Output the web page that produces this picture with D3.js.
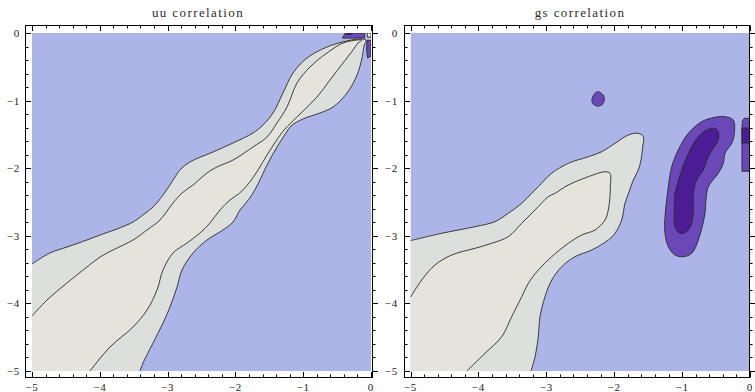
<!DOCTYPE html>
<html>
<head>
<meta charset="utf-8">
<script src="https://cdn.jsdelivr.net/npm/d3@7"></script>
<style>
  html, body { margin: 0; padding: 0; background: #ffffff; }
  svg { display: block; }
  .title { font-family: "Liberation Serif", "Times New Roman", serif; font-size: 13px; letter-spacing: 1.4px; fill: #2a2a2a; }
  .tick-label { font-family: "Liberation Serif", "Times New Roman", serif; font-size: 11px; letter-spacing: 0.8px; fill: #1a1a1a; }
</style>
</head>
<body>
<svg id="chart" width="755" height="392"></svg>
<script>
// Axis ticks shared by both panels
const majorTicks = [-5, -4, -3, -2, -1, 0];
const minorStep = 0.2;

// Fill colours for the contour levels (lowest to highest)
const levelColors = {
  low: "#adb4e8",
  mid1: "#dcdfdc",
  mid2: "#e4e4dc",
  high1: "#6a48b8",
  high2: "#4c1c94",
  peak: "#f2f0e6"
};

// ---- uu correlation: contour boundaries (x, y) ----
// outer band: runs from the left edge up to the tip at the origin and back down to the bottom edge
const uuBand1 = [
  [-5, -3.417], [-4.735, -3.254], [-4.484, -3.166], [-4.189, -3.062], [-3.997, -2.988],
  [-3.746, -2.899], [-3.510, -2.796], [-3.363, -2.692], [-3.215, -2.574], [-3.068, -2.400],
  [-2.935, -2.200], [-2.820, -2.030], [-2.670, -1.908], [-2.330, -1.760], [-2.035, -1.627],
  [-1.740, -1.479], [-1.593, -1.361], [-1.445, -1.183], [-1.298, -0.888], [-1.150, -0.592],
  [-0.944, -0.370], [-0.649, -0.207], [-0.354, -0.118], [-0.162, -0.089], [-0.074, -0.104],
  [-0.103, -0.192], [-0.133, -0.370], [-0.206, -0.621], [-0.354, -0.888], [-0.560, -1.095],
  [-0.752, -1.183], [-1.000, -1.270], [-1.180, -1.376], [-1.254, -1.479], [-1.386, -1.686],
  [-1.534, -1.953], [-1.660, -2.220], [-1.760, -2.400], [-1.850, -2.520], [-1.932, -2.618],
  [-2.035, -2.796], [-2.183, -2.914], [-2.419, -3.062], [-2.625, -3.254], [-2.788, -3.506],
  [-2.861, -3.757], [-2.965, -4.053], [-3.068, -4.290], [-3.215, -4.586], [-3.363, -4.882],
  [-3.407, -5]
];
// inner band
const uuBand2 = [
  [-5, -4.186], [-4.779, -3.950], [-4.484, -3.698], [-4.189, -3.462], [-3.997, -3.314],
  [-3.805, -3.210], [-3.510, -3.062], [-3.304, -2.914], [-3.112, -2.766], [-2.920, -2.515],
  [-2.788, -2.367], [-2.625, -2.249], [-2.419, -2.071], [-2.271, -1.982], [-2.035, -1.879],
  [-1.740, -1.686], [-1.534, -1.538], [-1.386, -1.331], [-1.239, -1.095], [-1.091, -0.740],
  [-0.900, -0.503], [-0.649, -0.296], [-0.413, -0.148], [-0.206, -0.104], [-0.133, -0.104],
  [-0.192, -0.148], [-0.265, -0.251], [-0.413, -0.444], [-0.605, -0.695], [-0.796, -0.947],
  [-1.032, -1.183], [-1.283, -1.435], [-1.401, -1.598], [-1.534, -1.805], [-1.667, -2.027],
  [-1.800, -2.220], [-1.940, -2.370], [-2.080, -2.470], [-2.227, -2.618], [-2.375, -2.811],
  [-2.522, -2.959], [-2.714, -3.107], [-2.920, -3.254], [-3.068, -3.506], [-3.156, -3.802],
  [-3.304, -4.098], [-3.510, -4.349], [-3.850, -4.645], [-4.145, -5]
];
// small high patches pressed against the top and right edges near the origin
const uuTopPatch = [[-0.38, 0], [-0.09, 0], [-0.10, -0.075], [-0.42, -0.075]];
const uuTopPatchDark = [[-0.36, 0], [-0.27, 0], [-0.29, -0.02], [-0.37, -0.02]];
const uuRightPatch = [[-0.06, -0.11], [0, -0.11], [0, -0.34], [-0.05, -0.37], [-0.065, -0.25]];
const uuCornerPatch = [[-0.055, 0], [0, 0], [0, -0.06], [-0.055, -0.06]];

// ---- gs correlation: contour boundaries (x, y) ----
const gsBand1 = [
  [-5, -3.072], [-4.541, -2.963], [-4.050, -2.865], [-3.756, -2.791], [-3.560, -2.667],
  [-3.362, -2.519], [-3.215, -2.371], [-3.118, -2.274], [-2.920, -2.075], [-2.676, -1.928],
  [-2.381, -1.830], [-2.184, -1.756], [-1.988, -1.632], [-1.792, -1.509], [-1.645, -1.484],
  [-1.571, -1.534], [-1.580, -1.682], [-1.605, -1.879], [-1.645, -2.027], [-1.719, -2.175],
  [-1.782, -2.352], [-1.841, -2.519], [-1.890, -2.766], [-1.988, -2.963], [-2.087, -3.062],
  [-2.331, -3.210], [-2.577, -3.309], [-2.773, -3.457], [-2.920, -3.654], [-3.019, -3.901],
  [-3.093, -4.197], [-3.118, -4.493], [-3.166, -4.789], [-3.225, -5]
];
const gsBand2 = [
  [-5, -3.910], [-4.835, -3.654], [-4.639, -3.432], [-4.393, -3.284], [-4.050, -3.185],
  [-3.804, -3.111], [-3.560, -3.013], [-3.362, -2.815], [-3.166, -2.618], [-2.971, -2.422],
  [-2.872, -2.371], [-2.676, -2.249], [-2.381, -2.126], [-2.135, -2.052], [-2.062, -2.075],
  [-2.057, -2.274], [-2.062, -2.422], [-2.087, -2.618], [-2.135, -2.766], [-2.283, -2.914],
  [-2.479, -2.988], [-2.676, -3.111], [-2.920, -3.309], [-3.118, -3.506], [-3.265, -3.703],
  [-3.362, -3.901], [-3.510, -4.197], [-3.657, -4.493], [-3.903, -4.738], [-4.172, -5]
];
const gsDot = [
  [-2.243, -0.868], [-2.161, -0.917], [-2.146, -0.991], [-2.184, -1.065], [-2.258, -1.080],
  [-2.323, -1.031], [-2.323, -0.966], [-2.283, -0.892]
];
const gsRidge1 = [
  [-0.368, -1.238], [-0.246, -1.287], [-0.231, -1.484], [-0.270, -1.632], [-0.368, -1.780],
  [-0.393, -1.928], [-0.467, -2.075], [-0.614, -2.274], [-0.648, -2.470], [-0.663, -2.667],
  [-0.761, -3.062], [-0.859, -3.259], [-0.982, -3.309], [-1.105, -3.284], [-1.203, -3.161],
  [-1.252, -2.963], [-1.252, -2.717], [-1.227, -2.470], [-1.203, -2.274], [-1.153, -1.978],
  [-1.056, -1.731], [-0.909, -1.484], [-0.711, -1.312], [-0.516, -1.247]
];
const gsRidge2 = [
  [-0.516, -1.410], [-0.467, -1.460], [-0.467, -1.583], [-0.541, -1.706], [-0.614, -1.830],
  [-0.688, -2.027], [-0.785, -2.175], [-0.835, -2.371], [-0.835, -2.618], [-0.859, -2.815],
  [-0.932, -2.939], [-1.031, -2.963], [-1.105, -2.865], [-1.115, -2.618], [-1.105, -2.371],
  [-1.080, -2.274], [-1.006, -2.027], [-0.884, -1.731], [-0.761, -1.534], [-0.638, -1.435]
];
const gsEdge1 = [[0, -1.262], [-0.085, -1.262], [-0.112, -1.30], [-0.118, -1.40], [-0.118, -2.045], [0, -2.045]];
const gsEdge2 = [[0, -1.405], [-0.118, -1.405], [-0.118, -1.627], [0, -1.627]];

const panels = [
  {
    title: "uu correlation",
    frame: { left: 25.5, top: 25.5, right: 372.5, bottom: 377.5 },
    xRange: [32, 371], yRange: [33, 371],
    labelX: 20, titleX: 198,
    bands: [uuBand1, uuBand2],
    blobs: [],
    edgePatches: [
      { pts: uuTopPatch, color: levelColors.high1 },
      { pts: uuTopPatchDark, color: levelColors.high2 },
      { pts: uuRightPatch, color: levelColors.high1 },
      { pts: uuCornerPatch, color: levelColors.peak }
    ]
  },
  {
    title: "gs correlation",
    frame: { left: 404.5, top: 25.5, right: 749.5, bottom: 377.5 },
    xRange: [410.5, 750], yRange: [33, 371],
    labelX: 398, titleX: 580,
    bands: [gsBand1, gsBand2],
    blobs: [
      { pts: gsDot, color: levelColors.high1 },
      { pts: gsRidge1, color: levelColors.high1 },
      { pts: gsRidge2, color: levelColors.high2 }
    ],
    edgePatches: [
      { pts: gsEdge1, color: levelColors.high1 },
      { pts: gsEdge2, color: levelColors.high2 }
    ]
  }
];

const svg = d3.select("#chart");
const lineColor = "#2a2a2a";

panels.forEach((p, i) => {
  const x = d3.scaleLinear().domain([-5, 0]).range(p.xRange);
  const y = d3.scaleLinear().domain([0, -5]).range(p.yRange);
  const g = svg.append("g");

  const clipId = "plot-clip-" + i;
  svg.append("defs").append("clipPath").attr("id", clipId)
    .append("rect")
    .attr("x", x(-5)).attr("y", y(0))
    .attr("width", x(0) - x(-5)).attr("height", y(-5) - y(0));

  const plot = g.append("g").attr("clip-path", `url(#${clipId})`);

  // lowest level fills the whole plot range
  plot.append("rect")
    .attr("x", x(-5)).attr("y", y(0))
    .attr("width", x(0) - x(-5)).attr("height", y(-5) - y(0))
    .attr("fill", levelColors.low);

  const curve = d3.line().x(d => x(d[0])).y(d => y(d[1])).curve(d3.curveCatmullRom.alpha(0.5));
  const closed = d3.line().x(d => x(d[0])).y(d => y(d[1])).curve(d3.curveCatmullRomClosed.alpha(0.5));

  // bands anchored in the lower-left corner
  const bandColors = [levelColors.mid1, levelColors.mid2];
  p.bands.forEach((pts, k) => {
    plot.append("path")
      .attr("d", curve(pts) + `L${x(-5)},${y(-5)}Z`)
      .attr("fill", bandColors[k]);
    plot.append("path")
      .attr("d", curve(pts))
      .attr("fill", "none")
      .attr("stroke", lineColor)
      .attr("stroke-width", 0.9);
  });

  // closed contours
  p.blobs.forEach(b => {
    plot.append("path")
      .attr("d", closed(b.pts))
      .attr("fill", b.color)
      .attr("stroke", lineColor)
      .attr("stroke-width", 0.9);
  });

  // patches cut by the plot edge
  const straight = d3.line().x(d => x(d[0])).y(d => y(d[1]));
  p.edgePatches.forEach(b => {
    plot.append("path")
      .attr("d", straight(b.pts) + "Z")
      .attr("fill", b.color)
      .attr("stroke", lineColor)
      .attr("stroke-width", 0.9)
      .attr("stroke-linejoin", "round");
  });

  // frame
  const f = p.frame;
  g.append("rect")
    .attr("x", f.left).attr("y", f.top)
    .attr("width", f.right - f.left).attr("height", f.bottom - f.top)
    .attr("fill", "none").attr("stroke", "#000").attr("stroke-width", 1);

  const allTicks = d3.range(-5, 0.0001, minorStep).map(v => Math.round(v * 10) / 10);
  const isMajor = v => majorTicks.includes(v);

  const ticks = g.append("g").attr("stroke", "#000").attr("stroke-width", 1);
  allTicks.forEach(v => {
    const len = isMajor(v) ? 5.5 : 3;
    const px = Math.round(x(v)) + 0.5;
    const py = Math.round(y(v)) + 0.5;
    // bottom and top edges, pointing inward
    ticks.append("line").attr("x1", px).attr("x2", px).attr("y1", f.bottom).attr("y2", f.bottom - len);
    ticks.append("line").attr("x1", px).attr("x2", px).attr("y1", f.top).attr("y2", f.top + len);
    // left edge pointing inward, right edge pointing outward
    ticks.append("line").attr("x1", f.left).attr("x2", f.left + len).attr("y1", py).attr("y2", py);
    ticks.append("line").attr("x1", f.right).attr("x2", f.right + len).attr("y1", py).attr("y2", py);
  });

  const fmt = v => (v < 0 ? "\u2212" + Math.abs(v) : String(v));

  // x tick labels
  g.selectAll(".xlab").data(majorTicks).enter().append("text")
    .attr("class", "tick-label")
    .attr("x", d => x(d))
    .attr("y", 391)
    .attr("text-anchor", "middle")
    .text(fmt);

  // y tick labels
  g.selectAll(".ylab").data(majorTicks).enter().append("text")
    .attr("class", "tick-label")
    .attr("x", p.labelX)
    .attr("y", d => y(d) + 4)
    .attr("text-anchor", "end")
    .text(fmt);

  g.append("text")
    .attr("class", "title")
    .attr("x", p.titleX)
    .attr("y", 17)
    .attr("text-anchor", "middle")
    .text(p.title);
});
</script>
</body>
</html>
